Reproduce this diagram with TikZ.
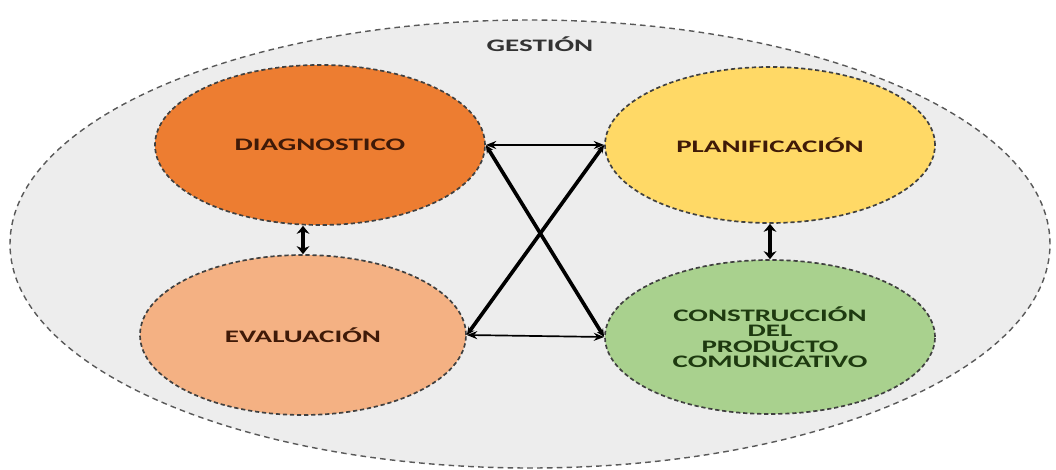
\documentclass[tikz,border=0pt]{standalone}
\usepackage{fontspec}
\newfontfamily\lblfont{Carlito}[FakeStretch=1.65]
\usetikzlibrary{shapes.geometric,arrows.meta}

\definecolor{gestionGray}{HTML}{EDEDED}
\definecolor{diagOrange}{HTML}{ED7D31}
\definecolor{evalOrange}{HTML}{F4B183}
\definecolor{planYellow}{HTML}{FFD966}
\definecolor{consGreen}{HTML}{A9D18E}
\definecolor{brownText}{HTML}{3F1A08}
\definecolor{greenText}{HTML}{1E3A10}

\tikzset{
  phase/.style={ellipse, draw=black!75, dash pattern=on 3pt off 2pt, line width=1.2pt, text opacity=1, font=\lblfont\bfseries\fontsize{12.5}{11}\selectfont, align=center},
  link/.style={{Stealth[length=2.6mm,width=2mm]}-{Stealth[length=2.6mm,width=2mm]}, line width=1.2pt},
  crossLink/.style={{Stealth[length=2mm,width=1.8mm]}-{Stealth[length=2mm,width=1.8mm]}, line width=2.6pt},
  stepLink/.style={{Stealth[length=2mm,width=3.2mm]}-{Stealth[length=2mm,width=3.2mm]}, line width=2.6pt}
}

\begin{document}
\begin{tikzpicture}

\useasboundingbox (0mm,0mm) rectangle (264mm,117.5mm);

\node (gestionRect) [ellipse, draw=black!65, dash pattern=on 4pt off 3pt, line width=1pt, fill=gestionGray, minimum width=260mm, minimum height=112mm] at (132.5mm,56.5mm) {};
\node (gestionLabel) [font=\lblfont\bfseries\fontsize{12.5}{12}\selectfont, text=black!80] at (135mm,106.5mm) {GESTIÓN};

\node (diag) [phase, fill=diagOrange, text=brownText, minimum width=82.5mm, minimum height=40mm] at (80mm,81.25mm) {DIAGNOSTICO};
\node (plan) [phase, fill=planYellow, text=brownText, minimum width=82.5mm, minimum height=39mm] at (192.5mm,81.25mm) {PLANIFICACIÓN};
\node (eval) [phase, fill=evalOrange, text=brownText, minimum width=81.5mm, minimum height=40mm] at (75.75mm,33.75mm) {EVALUACIÓN};
\node (cons) [phase, fill=consGreen, text=greenText, minimum width=82.5mm, minimum height=38.5mm] at (192.5mm,33.25mm) {CONSTRUCCIÓN\\DEL\\PRODUCTO\\COMUNICATIVO};

\draw[link] (diag.east) -- (plan.west);
\draw[link] (eval.east) -- (cons.west);
\draw[crossLink] (diag.east) -- (cons.west);
\draw[crossLink] (eval.east) -- (plan.west);
\draw[stepLink] (eval.north |- diag.south) -- (eval.north);
\draw[stepLink] (plan.south) -- (cons.north);

\end{tikzpicture}
\end{document}
